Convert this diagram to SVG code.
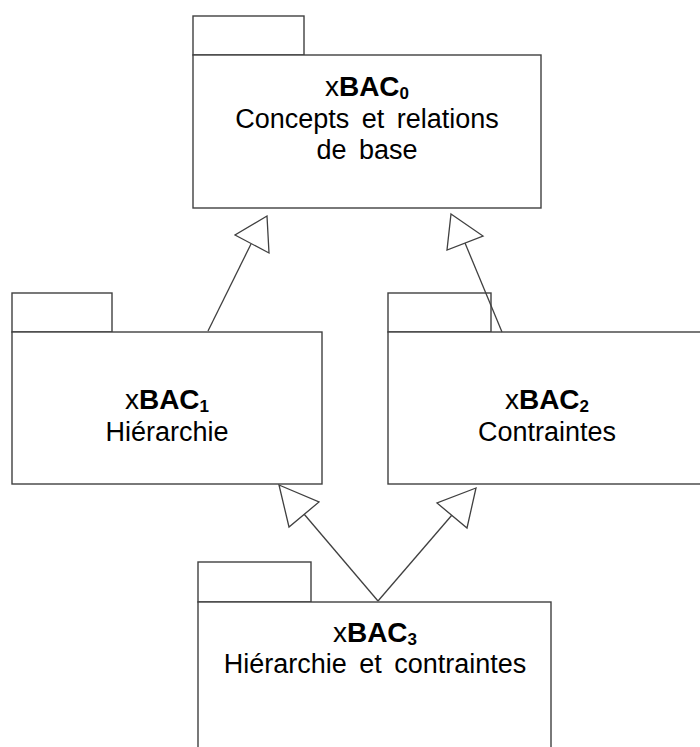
<svg xmlns="http://www.w3.org/2000/svg" width="700" height="747" viewBox="0 0 700 747">
  <style>
    .pkg { fill: #ffffff; stroke: #404040; stroke-width: 1.4; }
    .lbl { font-family: "Liberation Sans", Arial, sans-serif; font-size: 27px; fill: #000000; text-anchor: middle; word-spacing: 5px; }
    .name { font-size: 28px; }
    .b { font-weight: bold; }
    .sub { font-weight: bold; font-size: 17px; }
    .edge { stroke: #404040; stroke-width: 1.3; fill: none; }
    .head { fill: #ffffff; stroke: #404040; stroke-width: 1.3; stroke-linejoin: miter; }
  </style>

  <rect width="700" height="747" fill="#ffffff"/>

  <g id="xBAC0">
    <rect class="pkg" x="193" y="16" width="111" height="39"/>
    <rect class="pkg" x="193" y="55" width="348" height="153"/>
    <text class="lbl name" x="367" y="96"><tspan>x</tspan><tspan class="b">BAC</tspan><tspan class="sub" dy="3">0</tspan></text>
    <text class="lbl" x="367" y="128">Concepts et relations</text>
    <text class="lbl" x="367" y="159">de base</text>
  </g>

  <g id="xBAC1">
    <rect class="pkg" x="12" y="293" width="100" height="39"/>
    <rect class="pkg" x="12" y="332" width="310" height="152"/>
    <text class="lbl name" x="167" y="409"><tspan>x</tspan><tspan class="b">BAC</tspan><tspan class="sub" dy="3">1</tspan></text>
    <text class="lbl" x="167" y="441">Hiérarchie</text>
  </g>

  <g id="xBAC2">
    <rect class="pkg" x="388" y="293" width="103" height="39"/>
    <rect class="pkg" x="388" y="332" width="318" height="152"/>
    <text class="lbl name" x="547" y="409"><tspan>x</tspan><tspan class="b">BAC</tspan><tspan class="sub" dy="3">2</tspan></text>
    <text class="lbl" x="547" y="441">Contraintes</text>
  </g>

  <g id="xBAC3">
    <rect class="pkg" x="198" y="562" width="113" height="40"/>
    <rect class="pkg" x="198" y="602" width="353" height="160"/>
    <text class="lbl name" x="375" y="642"><tspan>x</tspan><tspan class="b">BAC</tspan><tspan class="sub" dy="3">3</tspan></text>
    <text class="lbl" x="375" y="673">Hiérarchie et contraintes</text>
  </g>

  <g id="connectors">
    <!-- xBAC1 generalizes to xBAC0 -->
    <line class="edge" x1="208" y1="331" x2="251" y2="244"/>
    <polygon class="head" points="267,216 235,235 269,253"/>
    <!-- xBAC2 generalizes to xBAC0 -->
    <line class="edge" x1="502" y1="332" x2="465" y2="243"/>
    <polygon class="head" points="451,214 483,236 447,250"/>
    <!-- xBAC3 generalizes to xBAC1 -->
    <line class="edge" x1="378" y1="601" x2="304" y2="514"/>
    <polygon class="head" points="279,485 319,502 289,527"/>
    <!-- xBAC3 generalizes to xBAC2 -->
    <line class="edge" x1="378" y1="601" x2="452" y2="515"/>
    <polygon class="head" points="476,488 437,503 467,528"/>
  </g>
</svg>
